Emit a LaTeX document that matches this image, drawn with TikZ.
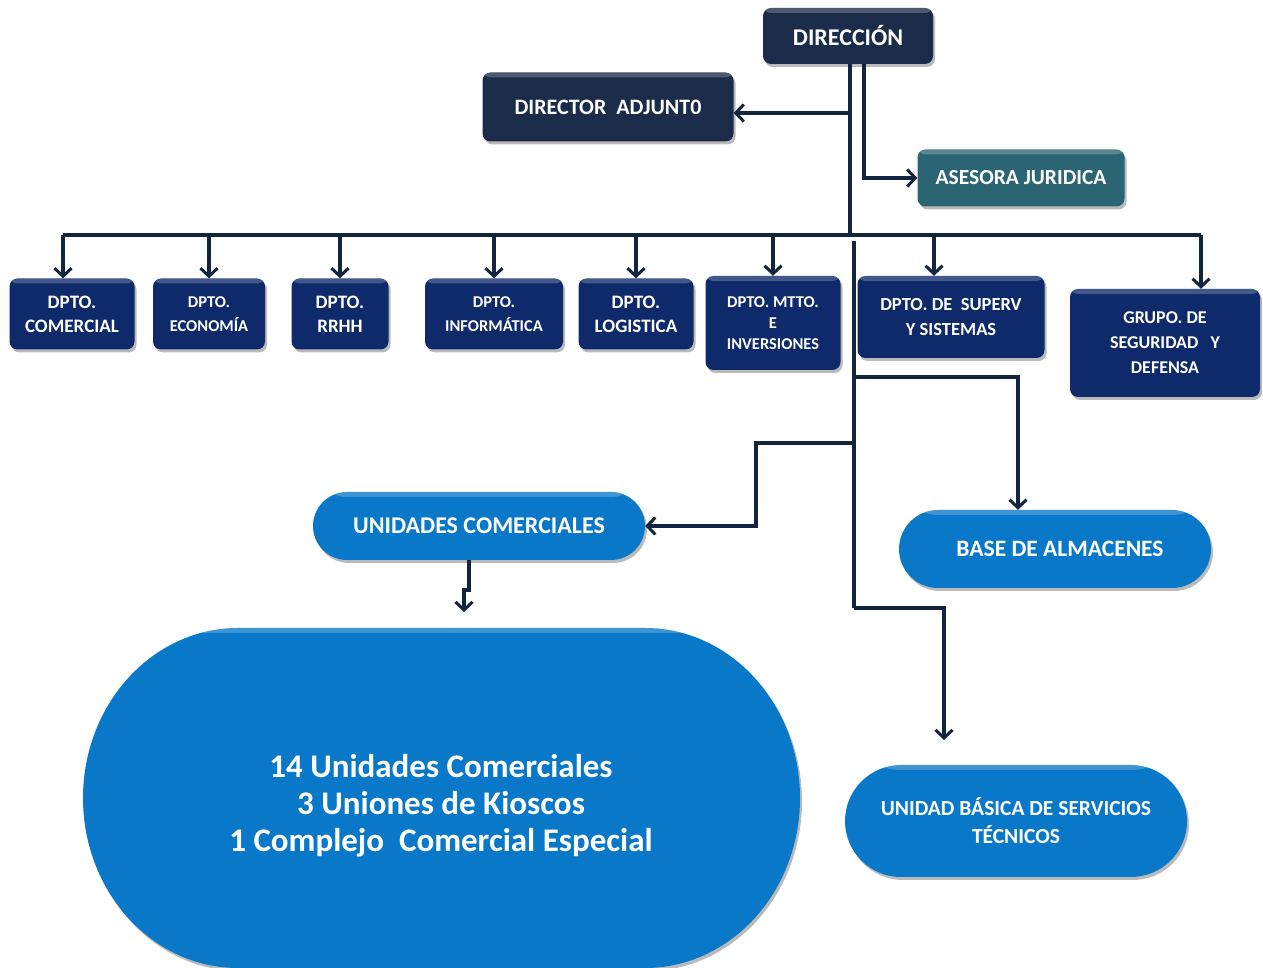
\documentclass[tikz,border=0pt]{standalone}
\usepackage{fontspec}
\setmainfont{Carlito}
\usetikzlibrary{arrows.meta,shadows,calc}
\definecolor{navy}{HTML}{0F2A6A}
\definecolor{darknavy}{HTML}{1B2B4A}
\definecolor{teal}{HTML}{2B6472}
\definecolor{pillblue}{HTML}{0A78C9}
\definecolor{linec}{HTML}{13243F}
\tikzset{
  x=1pt, y=1pt,
  hl/.style={path picture={\fill[white,opacity=0.22] (path picture bounding box.north west) rectangle ([yshift=-5pt]path picture bounding box.north east);}},
  box/.style={rectangle, rounded corners=8pt, fill=navy, text=white, font=\bfseries, align=center, inner sep=2pt, hl,
    drop shadow={shadow xshift=2pt, shadow yshift=-3pt, fill=black!60, opacity=0.45}},
  dept/.style={box},
  pill/.style={box, fill=pillblue},
  conn/.style={draw=linec, line width=3.4pt},
  arr/.style={conn, -{Straight Barb[length=8pt,width=17pt,line width=3pt]}},
}
\newcommand{\fs}[2]{\fontsize{#1}{#2}\selectfont}
\begin{document}
\begin{tikzpicture}
\useasboundingbox (0,0) rectangle (1263,968);
% top
\node[box, fill=darknavy, minimum width=170, minimum height=56, font=\bfseries\fs{24}{28}] (dir) at (848,932) {DIRECCIÓN};
\node[box, fill=darknavy, minimum width=251, minimum height=69, font=\bfseries\fs{22}{26}] (adj) at (608,861) {DIRECTOR\ \ ADJUNT0};
\node[box, fill=teal, minimum width=207, minimum height=57, font=\bfseries\fs{21.5}{25}] (ases) at (1021,790) {ASESORA JURIDICA};
% departments
\node[dept, minimum width=125, minimum height=71, font=\bfseries\fs{19}{24}] (comercial) at (72,654) {DPTO.\\COMERCIAL};
\node[dept, minimum width=112, minimum height=71, font=\bfseries\fs{16.5}{24}] (economia) at (209,654) {DPTO.\\ECONOMÍA};
\node[dept, minimum width=97, minimum height=71, font=\bfseries\fs{19}{24}] (rrhh) at (340,654) {DPTO.\\RRHH};
\node[dept, minimum width=138, minimum height=71, font=\bfseries\fs{16.5}{24}] (inform) at (494,654) {DPTO.\\INFORMÁTICA};
\node[dept, minimum width=115, minimum height=71, font=\bfseries\fs{19}{24}] (logist) at (636,654) {DPTO.\\LOGISTICA};
\node[dept, minimum width=135, minimum height=94, font=\bfseries\fs{16.5}{21}] (mtto) at (773,645) {DPTO. MTTO.\\E\\INVERSIONES};
\node[dept, minimum width=187, minimum height=82, font=\bfseries\fs{18.5}{25}] (superv) at (951,651) {DPTO. DE\ \ SUPERV\\Y SISTEMAS};
\node[dept, minimum width=190, minimum height=108, font=\bfseries\fs{18}{25}] (grupo) at (1165,625) {GRUPO. DE\\SEGURIDAD\ \ \ Y\\DEFENSA};
% lower units
\node[pill, rounded corners=34pt, minimum width=332, minimum height=68, font=\bfseries\fs{24}{28}] (unid) at (479,442) {UNIDADES COMERCIALES};
\node[pill, rounded corners=39pt, minimum width=312, minimum height=78, font=\bfseries\fs{23.5}{28}] (base) at (1055,419) {\hspace*{10pt}BASE DE ALMACENES};
\node[pill, rounded corners=56pt, minimum width=342, minimum height=112, font=\bfseries\fs{21.5}{28}] (ubst) at (1016,147) {UNIDAD BÁSICA DE SERVICIOS\\TÉCNICOS};
% big stadium
\fill[pillblue, drop shadow={shadow xshift=2pt, shadow yshift=-3pt, fill=black!60, opacity=0.45}, hl]
  (238,340) -- (645,340) arc[start angle=90, end angle=0, x radius=155, y radius=170]
  arc[start angle=0, end angle=-90, x radius=155, y radius=170] -- (238,0)
  arc[start angle=270, end angle=180, x radius=155, y radius=170]
  arc[start angle=180, end angle=90, x radius=155, y radius=170] -- cycle;
\node[text=white, align=center, font=\bfseries\fs{33}{37}] (big) at (441,162) {14 Unidades Comerciales\\3 Uniones de Kioscos\\1 Complejo\ \ Comercial Especial};
% coordinates
\coordinate (busL) at (63,733);
\coordinate (busR) at (1201,733);
\coordinate (t2top) at (854,727);
\coordinate (t2bot) at (854,360);
\coordinate (jb) at (854,591);
\coordinate (ju) at (854,525);
\coordinate (ju2) at (756,525);
\coordinate (ubsttip) at (944,228);
\coordinate (bigtip) at (464,356);
% connectors
\draw[conn] ([xshift=2pt]dir.south) |- (busL);
\draw[conn] (busL) -- (busR);
\draw[arr] ([xshift=2pt,yshift=-6pt]dir.south |- adj.east) -- ([yshift=-6pt]adj.east);
\draw[arr] ([xshift=16pt]dir.south) |- (ases.west);
\draw[arr] (busL) -- (busL |- comercial.north);
\draw[arr] (economia.north |- busL) -- (economia.north);
\draw[arr] (rrhh.north |- busL) -- (rrhh.north);
\draw[arr] (inform.north |- busL) -- (inform.north);
\draw[arr] (logist.north |- busL) -- (logist.north);
\draw[arr] (mtto.north |- busL) -- (mtto.north);
\draw[arr] ([xshift=-17pt]superv.north |- busL) -- ([xshift=-17pt]superv.north);
\draw[arr] (busR) -- (busR |- grupo.north);
\draw[conn] (t2top) -- (t2bot);
\draw[arr] (jb) -| ([xshift=-37pt]base.north);
\draw[arr] (ju) -- (ju2) |- (unid.east);
\draw[arr] (t2bot) -| (ubsttip);
\draw[arr] ([xshift=-10pt]unid.south) -- ++(0,-30) -- ++(-5,0) -- (bigtip);
\end{tikzpicture}
\end{document}
